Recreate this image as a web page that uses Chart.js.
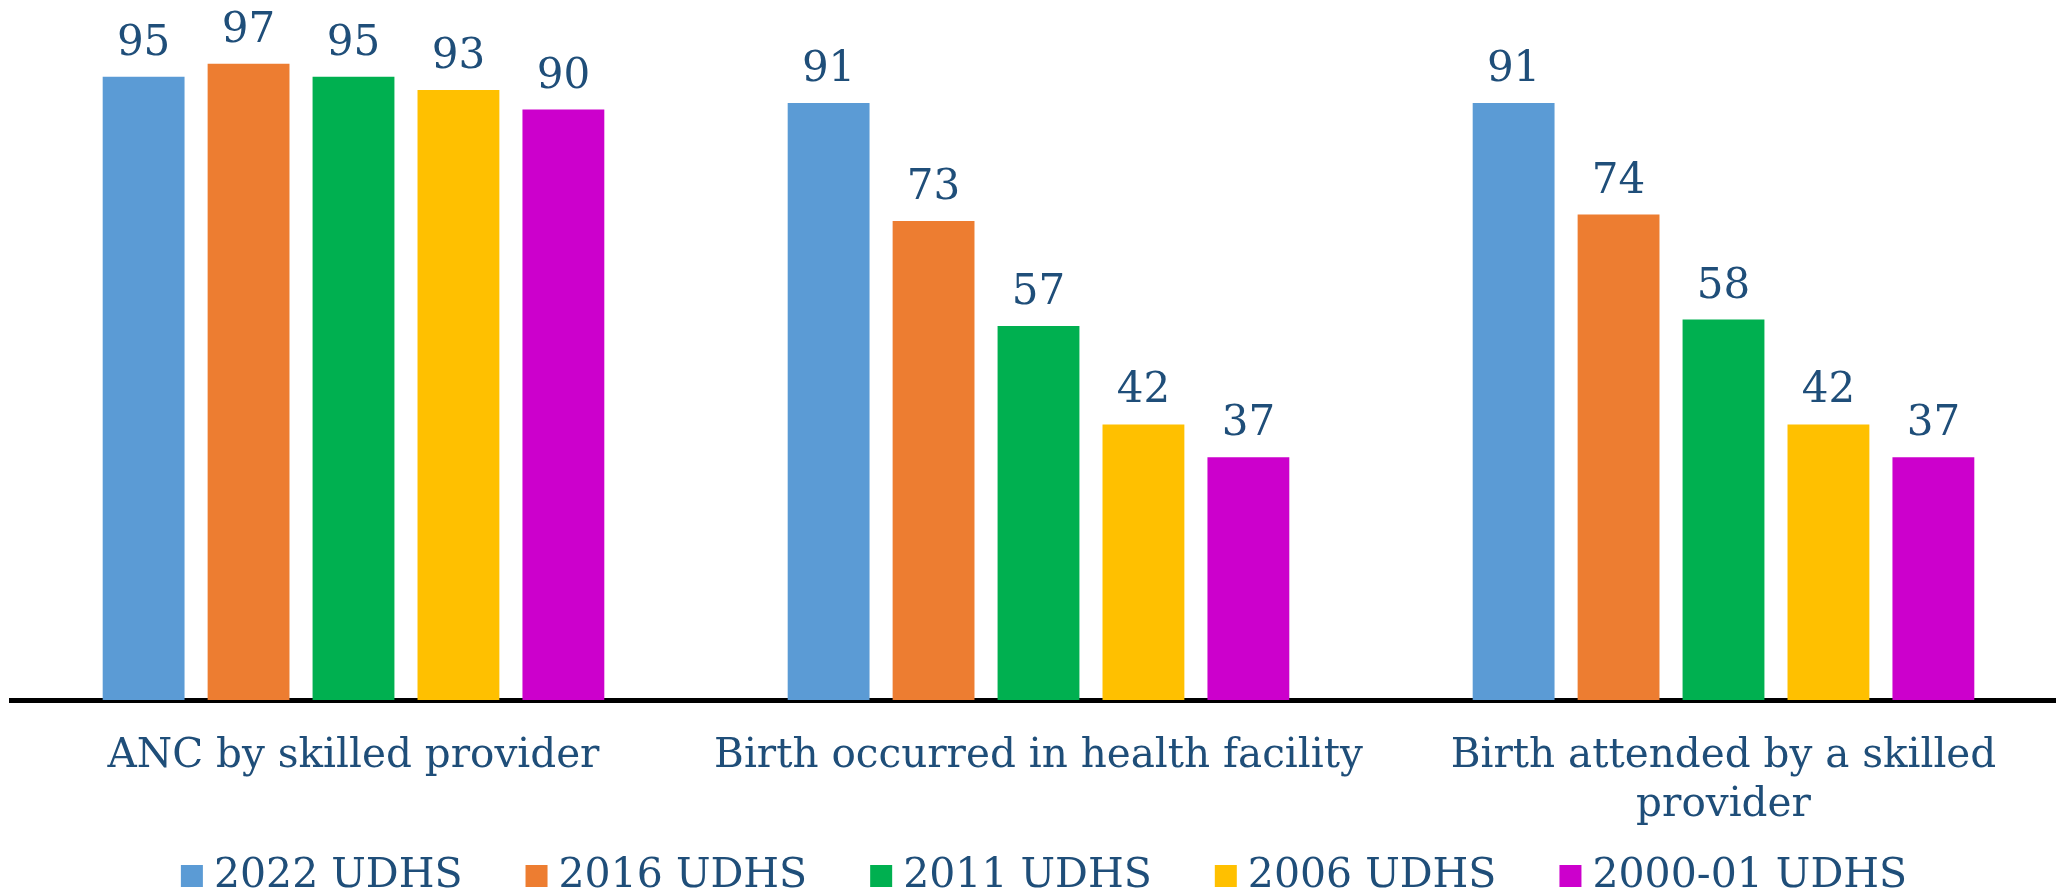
<!DOCTYPE html>
<html>
<head>
<meta charset="utf-8">
<script src="https://cdn.jsdelivr.net/npm/chart.js@4/dist/chart.umd.min.js"></script>
<style>
  html, body { margin: 0; padding: 0; overflow: hidden; background: #fff; }
  #wrap { width: 2066px; height: 892px; }
</style>
</head>
<body>
<div id="wrap"><canvas id="chart-udhs" width="2066" height="892"></canvas></div>
<script>
const categories = [
  "ANC by skilled provider",
  "Birth occurred in health facility",
  ["Birth attended by a skilled", "provider"]
];
const surveys = ["2022 UDHS", "2016 UDHS", "2011 UDHS", "2006 UDHS", "2000-01 UDHS"];
const udhs2022 = [95, 91, 91];
const udhs2016 = [97, 73, 74];
const udhs2011 = [95, 57, 58];
const udhs2006 = [93, 42, 42];
const udhs2000 = [90, 37, 37];
const surveyColors = ["#5B9BD5", "#ED7D31", "#00B050", "#FFC000", "#CC00CC"];

const TEXT_COLOR = "#1F4E79";
const FONT = "'DejaVu Serif', serif";

const valueLabels = {
  id: "valueLabels",
  afterDatasetsDraw(chart) {
    const ctx = chart.ctx;
    ctx.save();
    ctx.font = "42px " + FONT;
    ctx.fillStyle = TEXT_COLOR;
    ctx.textAlign = "center";
    ctx.textBaseline = "alphabetic";
    chart.data.datasets.forEach((ds, i) => {
      chart.getDatasetMeta(i).data.forEach((bar, j) => {
        ctx.fillText(String(ds.data[j]), bar.x, bar.y - 22);
      });
    });
    ctx.restore();
  }
};

// legend drawn by hand: the built-in one can't do the tight box/text gap
const bottomLegend = {
  id: "bottomLegend",
  afterDraw(chart) {
    const ctx = chart.ctx;
    const box = 22, gap = 11, spacing = 63, baseline = 887;
    ctx.save();
    ctx.font = "41px " + FONT;
    ctx.textAlign = "left";
    ctx.textBaseline = "alphabetic";
    const items = chart.data.datasets.map(ds => ({ text: ds.label, color: ds.backgroundColor, w: ctx.measureText(ds.label).width }));
    const total = items.reduce((acc, it) => acc + box + gap + it.w, 0) + spacing * (items.length - 1);
    let x = chart.width / 2 + 11 - total / 2;
    items.forEach(it => {
      ctx.fillStyle = it.color;
      ctx.fillRect(x, baseline - box, box, box);
      ctx.fillStyle = TEXT_COLOR;
      ctx.fillText(it.text, x + box + gap, baseline);
      x += box + gap + it.w + spacing;
    });
    ctx.restore();
  }
};

const seriesValues = [udhs2022, udhs2016, udhs2011, udhs2006, udhs2000];

new Chart(document.getElementById("chart-udhs").getContext("2d"), {
  type: "bar",
  data: {
    labels: categories,
    datasets: surveys.map((name, i) => ({
      label: name,
      data: seriesValues[i],
      backgroundColor: surveyColors[i],
      borderWidth: 0,
      barPercentage: 0.78,
      categoryPercentage: 0.766
    }))
  },
  options: {
    responsive: false,
    animation: false,
    layout: { padding: { top: 44, left: 11, right: 0, bottom: 62 } },
    plugins: {
      tooltip: { enabled: false },
      legend: { display: false }
    },
    scales: {
      x: {
        grid: { display: false, drawTicks: false },
        border: { display: true, color: "#000", width: 5 },
        ticks: {
          color: TEXT_COLOR,
          font: { family: FONT, size: 40.5, lineHeight: 1.21 },
          padding: 32,
          maxRotation: 0,
          minRotation: 0,
          autoSkip: false
        },
        afterFit: scale => { scale.height = 130; }
      },
      y: {
        display: false,
        min: 0,
        max: 100
      }
    }
  },
  plugins: [valueLabels, bottomLegend]
});
</script>
</body>
</html>
